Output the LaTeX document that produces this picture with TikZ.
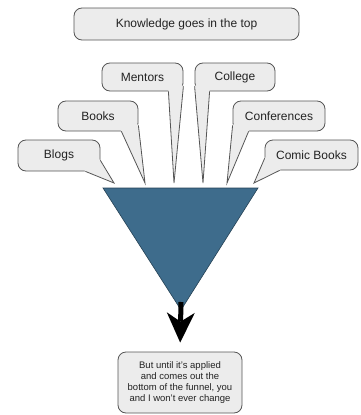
\documentclass[tikz,border=0pt]{standalone}
\usepackage{fontspec}
\setmainfont{Liberation Sans}
\usetikzlibrary{calc}
\usetikzlibrary{arrows.meta}
\definecolor{bubblefill}{RGB}{236,236,236}
\definecolor{bubbleline}{RGB}{85,85,85}
\definecolor{funnelblue}{RGB}{62,108,140}
\definecolor{textgray}{RGB}{35,35,35}
\tikzset{
  bubble/.style={draw=bubbleline, fill=bubblefill, line width=0.8pt, rounded corners=8pt,
    inner sep=0pt, text=textgray, font=\fontsize{12}{14}\selectfont},
  tailline/.style={draw=bubbleline, line width=0.8pt, line join=miter},
}
\newcommand{\tail}[3]{%
  \fill[bubblefill] ($(#1)!-1.2pt!(#2)$) -- (#2) -- ($(#3)!-1.2pt!(#2)$) -- cycle;
  \draw[tailline] (#1) -- (#2) -- (#3);
}
\begin{document}
\begin{tikzpicture}[x=1pt,y=-1pt]
\useasboundingbox (0,0) rectangle (361,415);

\node[bubble, minimum width=225pt, minimum height=32pt] (top) at (186.5,24) {Knowledge goes in the top};

\node[bubble, minimum width=81pt, minimum height=28pt] (mentors) at (142.5,77) {Mentors};
\node[bubble, minimum width=80pt, minimum height=28pt] (college) at (235,77) {College};
\node[bubble, minimum width=80pt, minimum height=30pt] (books) at (98,116) {Books};
\node[bubble, minimum width=92pt, minimum height=30pt] (conf) at (279,116) {Conferences};
\node[bubble, minimum width=82pt, minimum height=31pt] (blogs) at (59,155.5) {Blogs};
\node[bubble, minimum width=93pt, minimum height=30pt] (comic) at (311.5,155) {Comic Books};

\coordinate (blogs a) at ($(blogs.south east)+(-15,0)$);
\coordinate (blogs b) at ($(blogs.south east)+(0,-11)$);
\coordinate (blogs tip) at (114,183);
\coordinate (books a) at ($(books.south east)+(-17,0)$);
\coordinate (books b) at ($(books.south east)+(0,-6)$);
\coordinate (books tip) at (145,183);
\coordinate (mentors a) at ($(mentors.south east)+(-15,0)$);
\coordinate (mentors b) at ($(mentors.south east)+(0,-5)$);
\coordinate (mentors tip) at (174,183);
\coordinate (college a) at ($(college.south west)+(0,-5)$);
\coordinate (college b) at ($(college.south west)+(15,0)$);
\coordinate (college tip) at (203,183);
\coordinate (conf a) at ($(conf.south west)+(0,-6)$);
\coordinate (conf b) at ($(conf.south west)+(16,0)$);
\coordinate (conf tip) at (227,183);
\coordinate (comic a) at ($(comic.south west)+(0,-12)$);
\coordinate (comic b) at ($(comic.south west)+(15,0)$);
\coordinate (comic tip) at (254,183);

\tail{blogs a}{blogs tip}{blogs b}
\tail{books a}{books tip}{books b}
\tail{mentors a}{mentors tip}{mentors b}
\tail{college a}{college tip}{college b}
\tail{conf a}{conf tip}{conf b}
\tail{comic a}{comic tip}{comic b}

\coordinate (rim l) at (103,188);
\coordinate (rim r) at (258,188);
\coordinate (apex) at (181,310);
\coordinate (spout) at (181,302);
\filldraw[fill=funnelblue, draw=funnelblue!60!black, line width=0.6pt] (rim l) -- (rim r) -- (apex) -- cycle;

\node[bubble, font=\fontsize{9.5}{11}\selectfont, align=center, minimum width=124pt, minimum height=61pt] (note) at (180,382.5)
  {But until it's applied\\and comes out the\\bottom of the funnel, you\\and I won't ever change};

\draw[line width=5pt, shorten >=9pt, -{Stealth[length=30pt,width=28pt,inset=9pt,line width=0pt]}] (spout) -- (note.north);
\end{tikzpicture}
\end{document}
